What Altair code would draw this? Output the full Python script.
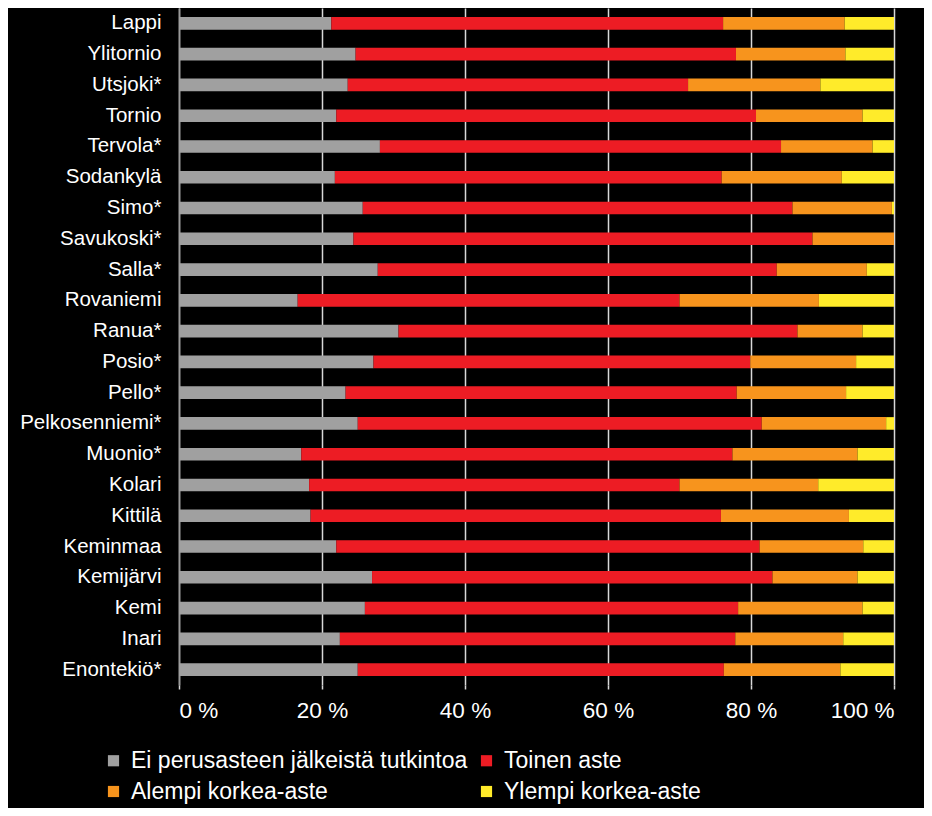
import altair as alt
import pandas as pd

categories = ["Lappi", "Ylitornio", "Utsjoki*", "Tornio", "Tervola*", "Sodankylä",
              "Simo*", "Savukoski*", "Salla*", "Rovaniemi", "Ranua*", "Posio*",
              "Pello*", "Pelkosenniemi*", "Muonio*", "Kolari", "Kittilä", "Keminmaa",
              "Kemijärvi", "Kemi", "Inari", "Enontekiö*"]

ei_perus = [21.3, 24.7, 23.6, 22.0, 28.1, 21.8, 25.7, 24.4, 27.8, 16.6, 30.7, 27.2,
            23.3, 25.0, 17.1, 18.2, 18.4, 22.0, 27.0, 26.0, 22.5, 25.0]
toinen = [54.8, 53.2, 47.6, 58.7, 56.1, 54.1, 60.1, 64.2, 55.8, 53.4, 55.8, 52.7,
          54.7, 56.5, 60.3, 51.8, 57.4, 59.2, 56.0, 52.2, 55.3, 51.2]
alempi = [17.0, 15.3, 18.5, 14.9, 12.8, 16.8, 13.9, 11.4, 12.6, 19.5, 9.1, 14.8,
          15.3, 17.4, 17.5, 19.4, 17.9, 14.5, 11.9, 17.4, 15.1, 16.3]
ylempi = [6.9, 6.8, 10.3, 4.4, 3.0, 7.3, 0.3, 0.0, 3.8, 10.5, 4.4, 5.3,
          6.7, 1.1, 5.1, 10.6, 6.3, 4.3, 5.1, 4.4, 7.1, 7.5]

series = ["Ei perusasteen jälkeistä tutkintoa", "Toinen aste",
          "Alempi korkea-aste", "Ylempi korkea-aste"]
colors = ["#A0A0A0", "#ED1C24", "#F7941D", "#FFEB2A"]

rows = []
for i, c in enumerate(categories):
    for j, vals in enumerate([ei_perus, toinen, alempi, ylempi]):
        rows.append({"kunta": c, "sarja": series[j], "arvo": vals[i], "jarj": j})
df = pd.DataFrame(rows)

FONT = "Liberation Sans, Arial, sans-serif"

chart = alt.Chart(df).mark_bar().encode(
    y=alt.Y("kunta:N", sort=categories,
            scale=alt.Scale(paddingInner=0.59, paddingOuter=0.295),
            axis=alt.Axis(title=None, labelColor="white", labelFontSize=20.5,
                          labelFont=FONT, ticks=False, labelPadding=18,
                          domain=True, domainColor="#9a9a9a", domainWidth=1.5,
                          grid=False)),
    x=alt.X("arvo:Q", stack="normalize",
            scale=alt.Scale(domain=[0, 1], nice=False),
            axis=alt.Axis(title=None, values=[0, 0.2, 0.4, 0.6, 0.8, 1.0],
                          labelExpr="round(datum.value*100) + ' %'",
                          labelColor="white", labelFontSize=22.5, labelFont=FONT,
                          labelPadding=10, domain=False,
                          ticks=True, tickSize=4, tickColor="#d8d8d8", tickWidth=1.5,
                          grid=True, gridColor="#d8d8d8", gridWidth=1.5)),
    color=alt.Color("sarja:N",
                    scale=alt.Scale(domain=series, range=colors),
                    legend=alt.Legend(title=None, orient="none", legendX=-77, legendY=741,
                                      direction="horizontal", columns=2,
                                      symbolType="square", symbolSize=125,
                                      symbolStrokeWidth=0, labelColor="white",
                                      labelFontSize=23, labelFont=FONT, labelOffset=6,
                                      rowPadding=7, columnPadding=7, padding=0,
                                      labelLimit=500)),
    order=alt.Order("jarj:Q", sort="ascending"),
).properties(
    width=715, height=677,
    autosize=alt.AutoSizeParams(type="none"),
    padding={"left": 171, "top": 0, "right": 30, "bottom": 123},
).configure(background="black").configure_view(stroke=None)

chart.save("out.html", embed_options={"renderer": "svg", "actions": False})
